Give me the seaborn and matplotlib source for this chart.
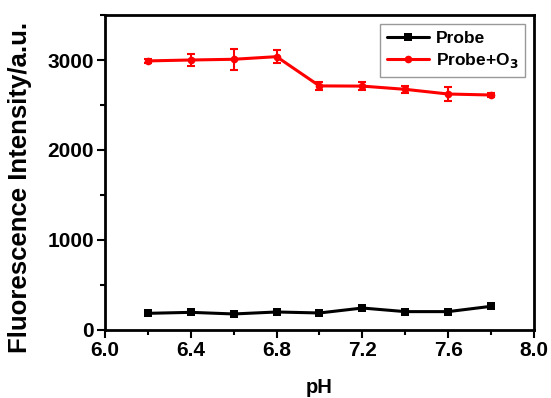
import matplotlib
matplotlib.use("Agg")
import matplotlib.pyplot as plt
import seaborn as sns
import pandas as pd
from matplotlib.ticker import MultipleLocator

ph = [6.2, 6.4, 6.6, 6.8, 7.0, 7.2, 7.4, 7.6, 7.8]
probe = [185, 196, 178, 200, 189, 244, 204, 204, 263]
probe_err = [10, 12, 10, 12, 10, 15, 12, 12, 15]
probe_o3 = [2990, 3000, 3008, 3037, 2712, 2710, 2674, 2622, 2611]
probe_o3_err = [20, 70, 117, 75, 40, 40, 40, 75, 20]

df = pd.DataFrame({
    "pH": ph * 2,
    "val": probe + probe_o3,
    "series": ["Probe"] * len(ph) + ["Probe+O$_3$"] * len(ph),
})

sns.set_style("ticks")
plt.rcParams["font.family"] = ["Liberation Sans", "DejaVu Sans"]
plt.rcParams["font.weight"] = "bold"
plt.rcParams["mathtext.default"] = "bf"
for k in ["text.color", "axes.labelcolor", "xtick.color", "ytick.color"]:
    plt.rcParams[k] = "black"

fig = plt.figure(figsize=(5.51, 3.98), dpi=100)
ax = fig.add_axes([0.1906, 0.1709, 0.969 - 0.1906, 0.9623 - 0.1709])

sns.lineplot(data=df, x="pH", y="val", hue="series", style="series",
             palette=["black", "red"], markers=["s", "o"], dashes=False,
             linewidth=2.2, markersize=5.5, markeredgewidth=0, ax=ax)
ax.errorbar(ph, probe, yerr=probe_err, fmt="none", ecolor="black", elinewidth=1.5, capsize=3, capthick=1.5)
ax.errorbar(ph, probe_o3, yerr=probe_o3_err, fmt="none", ecolor="red", elinewidth=1.5, capsize=3, capthick=1.5)

ax.set_xlim(6.0, 8.0)
ax.set_ylim(0, 3500)
ax.xaxis.set_major_locator(MultipleLocator(0.4))
ax.xaxis.set_minor_locator(MultipleLocator(0.2))
ax.yaxis.set_major_locator(MultipleLocator(1000))
ax.yaxis.set_minor_locator(MultipleLocator(500))
ax.set_xticklabels([f"{v:.1f}" for v in ax.get_xticks()])
ax.tick_params(axis="both", which="major", direction="out", length=6, width=1.5,
               labelsize=15, colors="black", pad=2)
ax.tick_params(axis="both", which="minor", direction="out", length=3.5, width=1.5, colors="black")
for s in ax.spines.values():
    s.set_linewidth(2)
    s.set_color("black")

ax.set_xlabel("pH", fontsize=14.5, fontweight="bold", labelpad=13)
ax.set_ylabel("Fluorescence Intensity/a.u.", fontsize=18.5, fontweight="bold")
ax.yaxis.set_label_coords(-0.17, 0.454)

leg = ax.legend(title=None, loc="upper right", fontsize=12.5, frameon=True,
                fancybox=False, edgecolor="gray", handlelength=2.4,
                borderaxespad=0.5, labelspacing=0.3, handletextpad=0.4)
leg.get_frame().set_linewidth(1)
for t in leg.get_texts():
    t.set_color("black")

fig.savefig("out.png", dpi=100)
